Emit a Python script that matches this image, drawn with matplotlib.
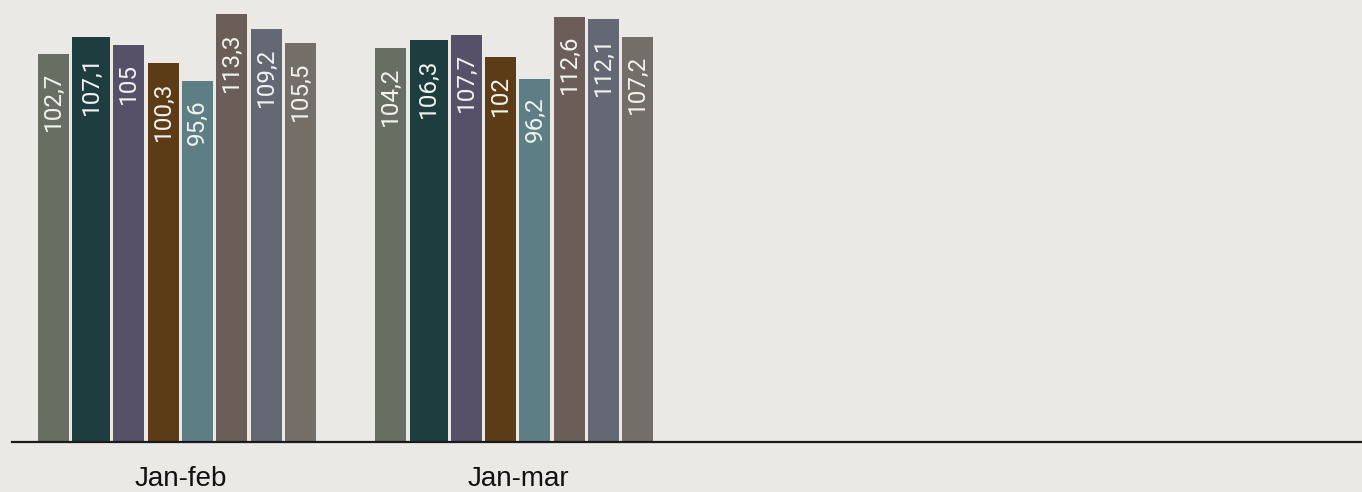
import matplotlib

matplotlib.use("Agg")
import matplotlib.pyplot as plt

categories = ["Jan-feb", "Jan-mar", "", ""]
series_colors = ["#686e62", "#1e3d3f", "#565068", "#5c3c17",
                 "#5d7e84", "#6b5e59", "#636874", "#736e67"]
values_by_period = [
    [102.7, 107.1, 105.0, 100.3, 95.6, 113.3, 109.2, 105.5],
    [104.2, 106.3, 107.7, 102.0, 96.2, 112.6, 112.1, 107.2],
]
value_labels = [
    ["102,7", "107,1", "105", "100,3", "95,6", "113,3", "109,2", "105,5"],
    ["104,2", "106,3", "107,7", "102", "96,2", "112,6", "112,1", "107,2"],
]

BG = "#ebe9e5"
px = 1 / 337.5  # one pixel in category units
bar_widths = [31 * px, 38 * px] + [31 * px] * 6
gap = 3.3 * px
group_left = -143 * px

fig = plt.figure(figsize=(13.62, 4.92), dpi=100, facecolor=BG)
ax = fig.add_axes([12 / 1362, 50 / 492, 1 - 12 / 1362, 1 - 50 / 492])
ax.set_facecolor(BG)

for ci, (vals, labels) in enumerate(zip(values_by_period, value_labels)):
    left = ci + group_left
    for val, lab, w, col in zip(vals, labels, bar_widths, series_colors):
        ax.bar(left, val, width=w, align="edge", color=col, linewidth=0)
        ax.annotate(lab, (left + w / 2, val), xytext=(0, -13), textcoords="offset points",
                    rotation=90, ha="center", va="top", color="#f2f2ef",
                    fontsize=17.5, family="Roboto")
        left += w + gap

ax.set_xlim(-0.5, len(categories) - 0.5)
ax.set_ylim(0, 117)
ax.set_xticks(range(len(categories)), labels=categories)
ax.set_yticks([])
ax.tick_params(axis="x", length=0, pad=17, labelsize=20, labelcolor="#111111")
for lab in ax.get_xticklabels():
    lab.set_family("Liberation Sans")
for side in ("top", "right", "left"):
    ax.spines[side].set_visible(False)
ax.spines["bottom"].set_color("#1a1a1a")
ax.spines["bottom"].set_linewidth(1.6)

fig.savefig("out.png", dpi=100, facecolor=BG)
